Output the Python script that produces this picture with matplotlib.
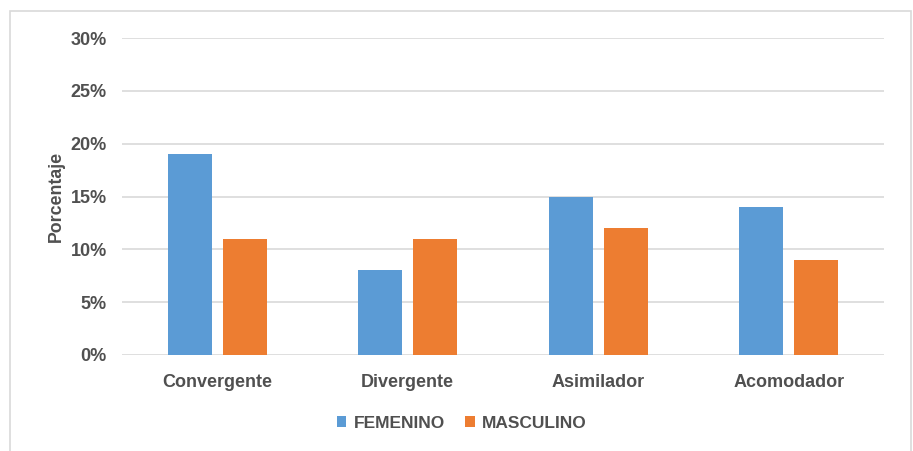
import numpy as np
import matplotlib.pyplot as plt
from matplotlib.patches import Rectangle

# Data
categorias = ['Convergente', 'Divergente', 'Asimilador', 'Acomodador']
femenino = [19, 8, 15, 14]
masculino = [11, 11, 12, 9]
yticks = [0, 5, 10, 15, 20, 25, 30]

plt.rcParams['font.family'] = ['Liberation Sans', 'DejaVu Sans']
txt = '#505050'

fig = plt.figure(figsize=(9.13, 4.51), dpi=100)
ax = fig.add_axes([0.1336, 0.2129, 0.8346, 0.7028])

# outer frame
fig.patches.append(Rectangle((10 / 913, -0.05), 901 / 913, 1 - 11 / 451 + 0.05,
                             transform=fig.transFigure, fill=False,
                             edgecolor='#d9d9d9', linewidth=1.2))

x = np.arange(len(categorias))
w = 0.23
off = 0.144
ax.bar(x - off, femenino, w, color='#5b9bd5', label='FEMENINO', zorder=3)
ax.bar(x + off, masculino, w, color='#ed7d31', label='MASCULINO', zorder=3)

ax.set_xlim(-0.5, 3.5)
ax.set_ylim(0, 30)
ax.set_yticks(yticks)
ax.set_yticklabels([f'{v}%' for v in yticks])
ax.set_xticks(x)
ax.set_xticklabels(categorias)
ax.grid(axis='y', color='#d9d9d9', linewidth=1.2, zorder=0)
for s in ax.spines.values():
    s.set_visible(False)
ax.tick_params(length=0, colors=txt, labelsize=13)
ax.tick_params(axis='y', pad=11)
ax.tick_params(axis='x', pad=14)
for lab in ax.get_xticklabels() + ax.get_yticklabels():
    lab.set_fontweight('bold')

ax.set_ylabel('Porcentaje', fontsize=12.8, fontweight='bold', color=txt, labelpad=4)

ax.legend(loc='center', bbox_to_anchor=(0.446, -0.215), ncol=2, frameon=False,
          handlelength=0.55, handleheight=0.55, handletextpad=0.4, columnspacing=1.2,
          prop={'weight': 'bold', 'size': 12.5}, labelcolor=txt)

fig.savefig('out.png', dpi=100)
